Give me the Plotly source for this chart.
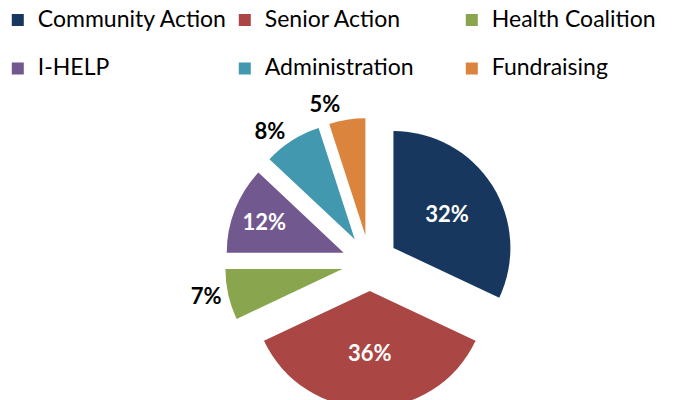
import plotly.graph_objects as go

categories = ["Community Action", "Senior Action", "Health Coalition",
              "I-HELP", "Administration", "Fundraising"]
values = [32, 36, 7, 12, 8, 5]
colors = ["#17375E", "#AA4643", "#89A54E", "#71588F", "#4198AF", "#DB843D"]
label_positions = ["inside", "inside", "outside", "inside", "outside", "outside"]
label_colors = ["white", "white", "black", "white", "black", "black"]

LEGEND_FONT = "Lato, sans-serif"
# legend labels: visible text on the first line of a 2-line entry so rows are spaced like the original
legend_labels = ["<span style='font-size:23px'>%s</span><br> " % c for c in categories]

fig = go.Figure(go.Pie(
    labels=legend_labels,
    values=values,
    sort=False,
    direction="clockwise",
    rotation=0,
    pull=[0.24] * len(values),
    marker=dict(colors=colors, line=dict(width=0)),
    textinfo="percent",
    texttemplate="%{percent:.0%}",
    textposition=label_positions,
    insidetextorientation="horizontal",
    textfont=dict(family="Lato", size=22, color=label_colors, weight="bold"),
    domain=dict(x=[0.064, 1.0], y=[0.0, 0.725]),
    hovertext=categories,
    hoverinfo="text+percent",
    automargin=False,
))

fig.update_layout(
    width=680, height=400,
    autosize=False,
    margin=dict(l=0, r=0, t=0, b=0, pad=0, autoexpand=False),
    paper_bgcolor="white",
    plot_bgcolor="white",
    showlegend=True,
    legend=dict(
        orientation="h",
        x=-0.015, y=1.015, xanchor="left", yanchor="top",
        entrywidth=182, entrywidthmode="pixels",
        valign="top",
        font=dict(family=LEGEND_FONT, size=17.5, color="#000000"),
        bgcolor="rgba(0,0,0,0)",
        itemwidth=30,
    ),
)

hide_leader_lines = (
    "var s=document.createElement('style');"
    "s.innerHTML='path.textline{display:none}';"
    "document.head.appendChild(s);"
)
fig.write_html("out.html", post_script=hide_leader_lines)
